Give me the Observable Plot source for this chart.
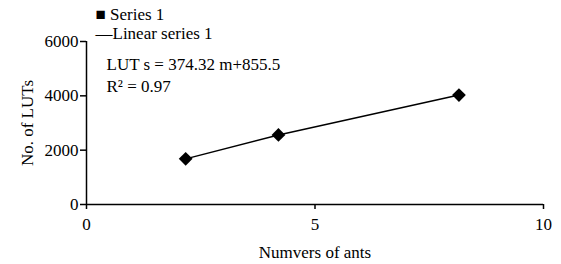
<!DOCTYPE html>
<html><head><meta charset="utf-8">
<script src="https://cdn.jsdelivr.net/npm/d3@7"></script>
<script src="https://cdn.jsdelivr.net/npm/@observablehq/plot@0.6"></script>
<style>
body{margin:0;background:#fff}
svg, svg text{font-family:"Liberation Serif","Times New Roman",serif !important;}
</style>
</head><body><div id="chart"></div>
<script>
const ants = [2.17, 4.2, 8.15];
const luts = [1680, 2560, 4030];
const xTicks = [0, 5, 10];
const yTicks = [0, 2000, 4000, 6000];
const legendSeries = "Series 1";
const legendLinear = "Linear series 1";
const equation = "LUT s = 374.32 m+855.5";
const rsq = "R² = 0.97";
const data = ants.map((a, i) => ({ants: a, luts: luts[i]}));

const chart = Plot.plot({
  width: 561, height: 264,
  marginLeft: 86, marginRight: 18, marginTop: 41, marginBottom: 60,
  style: {fontFamily: "Liberation Serif", fontSize: "17px", color: "#000", background: "#fff"},
  x: {domain: [0, 10]},
  y: {domain: [0, 6000]},
  marks: [
    Plot.axisX({ticks: xTicks, tickFormat: d3.format("d"), tickSize: 5, tickPadding: 8, label: "Numvers of ants", labelAnchor: "center", labelArrow: false, labelOffset: 53, strokeWidth: 1.5}),
    Plot.axisY({ticks: yTicks, tickFormat: d3.format("d"), tickSize: 6, tickPadding: 2, label: "No. of LUTs", labelAnchor: "center", labelArrow: false, labelOffset: 66, strokeWidth: 1.5}),
    Plot.ruleY([0], {stroke: "#000", strokeWidth: 1.5}),
    Plot.ruleX([0], {stroke: "#000", strokeWidth: 1.5}),
    Plot.line(data, {x: "ants", y: "luts", stroke: "#000", strokeWidth: 1.5}),
    Plot.dot(data, {x: "ants", y: "luts", symbol: "diamond2", r: 6.2, fill: "#000", stroke: "none"}),
    Plot.text(["■ " + legendSeries], {frameAnchor: "top-left", dx: 9, dy: -34, fill: "#000", textAnchor: "start"}),
    Plot.text(["—" + legendLinear], {frameAnchor: "top-left", dx: 9, dy: -15, fill: "#000", textAnchor: "start"}),
    Plot.text([equation], {frameAnchor: "top-left", dx: 20, dy: 16, fill: "#000", textAnchor: "start"}),
    Plot.text([rsq], {frameAnchor: "top-left", dx: 20, dy: 38, fill: "#000", textAnchor: "start"})
  ]
});
document.getElementById("chart").append(chart);
</script></body></html>
